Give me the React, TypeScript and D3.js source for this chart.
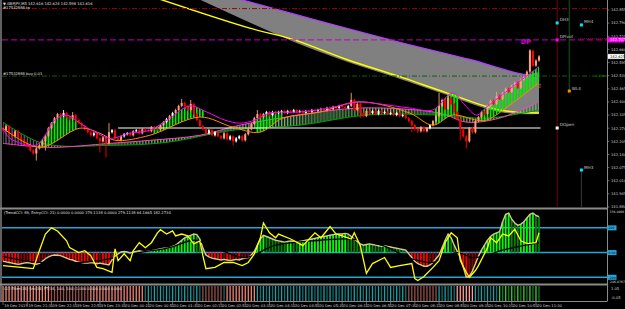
import React from "react";
import * as d3 from "d3";

type P = [number, number];

const priceTicks = [142.855, 142.79, 142.725, 142.66, 142.595, 142.53, 142.465, 142.4, 142.335, 142.27, 142.205, 142.14, 142.075, 142.01, 141.945, 141.88];
const timeLabels = ["19 Dec 2019", "19 Dec 21:30", "19 Dec 22:10", "19 Dec 22:50", "19 Dec 23:30", "20 Dec 00:10", "20 Dec 00:50", "20 Dec 01:30", "20 Dec 02:10", "20 Dec 02:50", "20 Dec 03:30", "20 Dec 04:10", "20 Dec 04:50", "20 Dec 05:30", "20 Dec 06:10", "20 Dec 06:50", "20 Dec 07:30", "20 Dec 08:10", "20 Dec 08:50", "20 Dec 09:30", "20 Dec 10:10", "20 Dec 10:50", "20 Dec 11:30"];

const firstOpen = 142.27;
const closes = [
  142.26, 142.28, 142.245, 142.23, 142.255, 142.225, 142.21, 142.195, 142.18, 142.16,
  142.145, 142.17, 142.185, 142.205, 142.23, 142.27, 142.295, 142.32, 142.34, 142.33,
  142.345, 142.325, 142.315, 142.335, 142.31, 142.295, 142.28, 142.265, 142.25, 142.235,
  142.245, 142.22, 142.205, 142.225, 142.195, 142.25, 142.26, 142.22, 142.21, 142.23,
  142.24, 142.245, 142.235, 142.255, 142.26, 142.245, 142.265, 142.26, 142.255, 142.275,
  142.27, 142.265, 142.285, 142.3, 142.315, 142.33, 142.345, 142.36, 142.38, 142.395,
  142.38, 142.36, 142.39, 142.34, 142.31, 142.28, 142.265, 142.245, 142.26, 142.235,
  142.25, 142.23, 142.22, 142.245, 142.215, 142.23, 142.205, 142.22, 142.23, 142.21,
  142.24, 142.265, 142.29, 142.32, 142.34, 142.325, 142.34, 142.35, 142.335, 142.35,
  142.345, 142.35, 142.355, 142.345, 142.355, 142.35, 142.36, 142.35, 142.355, 142.345,
  142.355, 142.35, 142.36, 142.355, 142.36, 142.365, 142.36, 142.37, 142.365, 142.375,
  142.37, 142.38, 142.375, 142.37, 142.38, 142.41, 142.36, 142.39, 142.345, 142.33,
  142.355, 142.345, 142.355, 142.34, 142.355, 142.345, 142.35, 142.34, 142.345, 142.335,
  142.345, 142.33, 142.335, 142.32, 142.305, 142.285, 142.265, 142.255, 142.275, 142.255,
  142.27, 142.285, 142.305, 142.33, 142.38, 142.41, 142.365, 142.42, 142.39, 142.35,
  142.315, 142.265, 142.23, 142.205, 142.27, 142.25, 142.305, 142.325, 142.35, 142.34,
  142.38, 142.405, 142.39, 142.43, 142.415, 142.445, 142.465, 142.45, 142.48, 142.495,
  142.47, 142.51, 142.525, 142.55, 142.655, 142.58, 142.605, 142.625,
];
const highs: P[] = [[20, 142.36], [23, 142.35], [35, 142.295], [59, 142.415], [62, 142.41], [84, 142.36], [115, 142.445], [144, 142.445], [147, 142.44], [163, 142.45], [174, 142.66], [175, 142.65]];
const lows: P[] = [[11, 142.11], [14, 142.16], [32, 142.15], [34, 142.125], [76, 142.185], [118, 142.32], [135, 142.25], [137, 142.245], [151, 142.21], [153, 142.17]];

const magentaLine: P[] = [[0, 142.27], [2.3, 142.22], [10.6, 142.185], [13.9, 142.235], [17, 142.31], [21, 142.335], [25.4, 142.295], [30.4, 142.25], [35.3, 142.22], [41.9, 142.245], [48.5, 142.26], [55.1, 142.32], [61.7, 142.38], [67.3, 142.35], [73.3, 142.31], [78.2, 142.295], [83.2, 142.31], [88.1, 142.345], [98, 142.35], [107.9, 142.37], [116.8, 142.4], [124.4, 142.39], [134.3, 142.37], [141.9, 142.36], [148.5, 142.445], [152.5, 142.385], [156.4, 142.335], [159.7, 142.375], [168.3, 142.475], [177, 142.575]];
const orangeLine: P[] = [[0, 142.27], [12.2, 142.175], [25.4, 142.27], [32, 142.245], [37, 142.21], [48.5, 142.235], [65, 142.325], [75.9, 142.275], [84.8, 142.25], [92.4, 142.32], [104.6, 142.35], [117.8, 142.4], [134.3, 142.345], [141.9, 142.285], [148.5, 142.335], [156.4, 142.31], [159.7, 142.31], [168.3, 142.395], [177, 142.495]];
const slowGreenLine: P[] = [[0, 142.3], [13.2, 142.195], [35.3, 142.185], [54.1, 142.2], [75.9, 142.26], [98, 142.285], [120.1, 142.335], [144.2, 142.335], [159.7, 142.32], [177, 142.36]];
const slowPinkLine: P[] = [[0, 142.195], [15.5, 142.175], [35.3, 142.195], [48.5, 142.21], [65, 142.235], [78.2, 142.285], [98, 142.335], [117.8, 142.37], [144.2, 142.345], [153.1, 142.3], [164, 142.32], [177, 142.4]];
const yellowMA: P[] = [[48.5, 142.925], [81.5, 142.765], [95.7, 142.71], [113.5, 142.61], [131, 142.525], [146.5, 142.445], [164, 142.36], [177, 142.345]];
const cloudUpper: P[] = [[65, 142.96], [77.6, 142.91], [104.6, 142.8], [131, 142.695], [154.1, 142.61], [173, 142.535], [177, 142.545]];
const cloudLower: P[] = [[61.7, 142.935], [95.7, 142.705], [113.5, 142.605], [131, 142.52], [146.5, 142.44], [164, 142.355], [177, 142.345]];
const bullRanges: P[] = [[13, 24], [50, 66], [84, 92], [143, 150], [158, 177]];

const cciHist = [
  -70, -75, -80, -85, -90, -95, -90, -85, -80, -85, -90, -95, -88,
  -70, -50, -35, -25, -20, -22,
  -25, -35, -45, -55, -60, -70, -75, -80, -85, -85, -80, -85, -90,
  -85, -90, -95, -100,
  -60, -30, -10, 5, 10, 5, -5, 5, 10, 15, 10, 8, 12,
  15, 20, 25, 30, 35, 35, 40, 50,
  60, 80, 100, 120, 130, 140, 150, 145,
  110, 40,
  -20, -35, -45, -50, -55, -60, -55, -60, -65, -60, -55, -60, -50, -45, -40,
  -20, 10, 60, 110, 140,
  130, 120, 110, 100, 95, 90, 85, 90, 95, 90, 85, 90, 95, 100, 105, 110, 115, 120,
  125, 130, 135, 140, 145, 150, 150, 150, 155, 150, 130, 110,
  90, 70, 60, 65, 70, 65, 60, 55, 50, 55, 50, 45, 40, 35, 30, 25, 20,
  -10, -40, -70, -90, -100, -110, -110, -100, -80, -50, -20,
  40, 100, 150, 120, 60,
  10, -40,
  -120, -200, -190, -150, -90,
  -30, 20, 60,
  100, 130, 150, 160, 170,
  250, 310, 320,
  270, 240, 220, 230, 250, 280,
  310, 320, 300, 290,
];
const entryCCI: P[] = [[0, -105], [6, -120], [10, -130], [12, 15], [14, 150], [16, 200], [18, 175], [21, 95], [22, 40], [25, 0], [27, 15], [29, -25], [31, -120], [33, -130], [36, -160], [37, 30], [38, -65], [40, -10], [42, -65], [43, 15], [45, 80], [47, 40], [49, 80], [51, 160], [52, 185], [54, 150], [56, 175], [57, 135], [59, 150], [61, 135], [63, 70], [65, 95], [66, -25], [67, -130], [70, -120], [73, -80], [76, -80], [79, -105], [81, -80], [83, -10], [85, 120], [86, 240], [88, 160], [90, 120], [91, 150], [95, 110], [98, 70], [99, 56], [103, 160], [105, 120], [108, 210], [110, 150], [112, 135], [115, 110], [116, 160], [118, 56], [120, -168], [122, -89], [126, -40], [128, -120], [131, -105], [135, -89], [136, -210], [137, -226], [139, -194], [142, -120], [144, -65], [146, 80], [148, 160], [150, 120], [151, -65], [153, -160], [154, -200], [156, -145], [157, -105], [160, 40], [161, 120], [163, 80], [165, 150], [167, 135], [169, 190], [171, 95], [173, 72], [176, 80], [177, 160]];
const cciSignal: P[] = [[0, -30], [12, -80], [30, -70], [45, 0], [55, 40], [63, 100], [70, 40], [80, -40], [90, 60], [105, 100], [115, 110], [125, 60], [135, -50], [142, -80], [150, 0], [155, -40], [160, -20], [165, 20], [177, 80]];
const cyanLevels = [200, 0, -200];

const filterSegments: [number, number, string][] = [[0, 15, "salmon"], [16, 28, "brown"], [29, 46, "salmon"], [47, 65, "teal"], [66, 72, "brown"], [73, 73, "teal"], [74, 83, "salmon"], [84, 133, "teal"], [134, 143, "brown"], [144, 149, "teal"], [150, 155, "pink"], [156, 163, "teal"], [164, 177, "green"]];

const levelTP = 142.862;
const levelPivot = 142.707;
const levelBuy = 142.528;
const levelDOpen = 142.271;
const dOpenStart = 38;

const pivots = [
  { label: "DH3", bar: 183, price: 142.791, color: "#00e5ee" },
  { label: "MH4", bar: 191, price: 142.781, color: "#00e5ee" },
  { label: "DPivot", bar: 183, price: 142.707, color: "#ff00ff" },
  { label: "WL4", bar: 187, price: 142.454, color: "#ff8c00" },
  { label: "DOpen", bar: 183, price: 142.271, color: "#ffffff" },
  { label: "MH3", bar: 191, price: 142.063, color: "#00e5ee" },
];

const FONT = "DejaVu Sans, Liberation Sans, sans-serif";

export default function App() {
  const x = d3.scaleLinear().domain([0, 177]).range([3, 539]);
  const y = d3.scaleLinear().domain([141.88, 142.855]).range([207, 10]);
  const yc = d3.scaleLinear().domain([-246.0767, 336.4966]).range([283, 211]);
  const step = x(1) - x(0);

  const line = d3.line<P>().x(d => x(d[0])).y(d => y(d[1])).curve(d3.curveCatmullRom.alpha(0.5));
  const band = (a: P[], b: P[]) => {
    const p1 = line(a) as string;
    const p2 = line([...b].reverse()) as string;
    return p1 + "L" + p2.slice(1) + "Z";
  };
  const cLine = d3.line<P>().x(d => x(d[0])).y(d => yc(d[1]));
  const cSmooth = d3.line<P>().x(d => x(d[0])).y(d => yc(d[1])).curve(d3.curveCatmullRom.alpha(0.5));

  const hiMap = new Map(highs);
  const loMap = new Map(lows);
  const candles = closes.map((c, i) => {
    const o = i === 0 ? firstOpen : closes[i - 1];
    const hi = hiMap.get(i) ?? Math.max(o, c) + 0.006;
    const lo = loMap.get(i) ?? Math.min(o, c) - 0.006;
    const up = c >= o;
    const color = up ? (c - o >= 0.015 ? "#ffa07a" : "#ffffff") : "#ff0000";
    return { i, o, c, hi, lo, color };
  });

  const histColor = (i: number) => {
    const v = cciHist[i];
    const p = i > 0 ? cciHist[i - 1] : v;
    if (v >= 0) return v >= p ? "#00ff00" : "#008800";
    return v <= p ? "#ff0000" : "#8b0000";
  };

  const filterColor = (k: string, i: number) => {
    if (k === "salmon") return "#f28474";
    if (k === "brown") return "#94504a";
    if (k === "pink") return "#ff9c9c";
    if (k === "teal") return i % 2 ? "#0f6f72" : "#17a3a6";
    return i % 2 ? "#1d7a1d" : "#33d033";
  };

  const filterBars: { i: number; color: string }[] = [];
  filterSegments.forEach(([a, b, k]) => {
    for (let i = a; i <= b; i++) filterBars.push({ i, color: filterColor(k, i) });
  });

  const axisX = 607.5;
  const txt = { fontFamily: FONT, fontSize: 3.7 } as const;
  const txtSmall = { fontFamily: FONT, fontSize: 3.1 } as const;

  return (
    <svg width={625} height={309} style={{ position: "absolute", left: 0, top: 0, background: "#000", display: "block" }}>
      <defs>
        <clipPath id="mainClip"><rect x={2} y={0} width={605} height={207} /></clipPath>
        <clipPath id="indClip"><rect x={2} y={210} width={605} height={73} /></clipPath>
        <clipPath id="bullClip">
          {bullRanges.map(([a, b], k) => (
            <rect key={k} x={x(a) - step / 2} y={0} width={x(b) - x(a) + step} height={207} />
          ))}
        </clipPath>
        <clipPath id="slowGreyClip"><rect x={0} y={0} width={x(20)} height={207} /></clipPath>
        <clipPath id="slowGreenClip"><rect x={x(20)} y={0} width={x(177) - x(20) + 2} height={207} /></clipPath>
        <pattern id="fastHatch" patternUnits="userSpaceOnUse" x={x(0) - 0.9} y={0} width={step} height={4}>
          <rect x={0} y={0} width={1.8} height={4} fill="#00ee00" />
        </pattern>
        <pattern id="greyHatch" patternUnits="userSpaceOnUse" x={x(0) - 0.5} y={0} width={step} height={4}>
          <rect x={0} y={0} width={1} height={4} fill="#8a8a8a" />
        </pattern>
        <pattern id="greenHatch" patternUnits="userSpaceOnUse" x={x(0) - 0.5} y={0} width={step} height={4}>
          <rect x={0} y={0} width={1} height={4} fill="#8aa08a" />
          <rect x={1.2} y={0} width={1} height={4} fill="#1f6f1f" />
        </pattern>
        <filter id="soft"><feGaussianBlur stdDeviation="0.6" /></filter>
      </defs>

      {/* frame */}
      <line x1={1} x2={1} y1={0} y2={301} stroke="#808080" strokeWidth={1.5} />

      {/* main panel */}
      <g clipPath="url(#mainClip)">
        <path d={band(cloudUpper, cloudLower)} fill="#808080" />
        <path d={line(cloudLower) as string} fill="none" stroke="#808080" strokeWidth={2} filter="url(#soft)" />
        <path d={line(yellowMA) as string} fill="none" stroke="#ffff00" strokeWidth={1.4} />
        <path d={line(cloudUpper) as string} fill="none" stroke="#b040ff" strokeWidth={1.4} />

        <line x1={2} x2={axisX} y1={y(levelTP)} y2={y(levelTP)} stroke="#a00000" strokeWidth={1} strokeDasharray="5,2,1,2" />
        <line x1={2} x2={axisX} y1={y(levelPivot)} y2={y(levelPivot)} stroke="#c000c0" strokeWidth={1} strokeDasharray="6,3" />
        <line x1={2} x2={axisX} y1={y(levelBuy)} y2={y(levelBuy)} stroke="#106010" strokeWidth={1} strokeDasharray="5,2,1,2" />

        <g clipPath="url(#slowGreyClip)">
          <path d={band(slowGreenLine, slowPinkLine)} fill="url(#greyHatch)" />
        </g>
        <g clipPath="url(#slowGreenClip)">
          <path d={band(slowGreenLine, slowPinkLine)} fill="url(#greenHatch)" />
        </g>
        <path d={line(slowGreenLine) as string} fill="none" stroke="#00a000" strokeWidth={1} />
        <path d={line(slowPinkLine) as string} fill="none" stroke="#ff40c8" strokeWidth={1} />

        <g clipPath="url(#bullClip)">
          <path d={band(magentaLine, orangeLine)} fill="url(#fastHatch)" />
        </g>

        <line x1={x(dOpenStart)} x2={x(177.5)} y1={y(levelDOpen)} y2={y(levelDOpen)} stroke="#ffffff" strokeWidth={1.2} />

        {candles.map(d => {
          const top = y(Math.max(d.o, d.c));
          const h = Math.max(1, y(Math.min(d.o, d.c)) - top);
          return (
            <g key={d.i}>
              <line x1={x(d.i)} x2={x(d.i)} y1={y(d.hi)} y2={y(d.lo)} stroke={d.color} strokeWidth={0.9} />
              <rect x={x(d.i) - 1} y={top} width={2} height={h} fill={d.color} />
            </g>
          );
        })}

        <path d={line(orangeLine) as string} fill="none" stroke="#ff8c00" strokeWidth={1} />
        <path d={line(magentaLine) as string} fill="none" stroke="#ff00ff" strokeWidth={1} />

        {/* pivot verticals */}
        <line x1={x(183)} x2={x(183)} y1={0} y2={207} stroke="#7a0000" strokeWidth={1} />
        <line x1={x(187)} x2={x(187)} y1={0} y2={y(142.454)} stroke="#006000" strokeWidth={1} />
        <line x1={x(191)} x2={x(191)} y1={y(142.063)} y2={207} stroke="#3a3a3a" strokeWidth={1} />
        <line x1={580} x2={axisX} y1={y(142.713)} y2={y(142.713)} stroke="#a00000" strokeWidth={1} strokeDasharray="1,1" />

        {pivots.map(p => (
          <g key={p.label}>
            <rect x={x(p.bar) - 1.5} y={y(p.price) - 1.5} width={3} height={3} fill={p.color} />
            <text x={x(p.bar) + 2.5} y={y(p.price) - 1.5} fill="#c8c8c8" style={{ ...txt, fontSize: 4.2 }}>{p.label}</text>
          </g>
        ))}

        <text x={x(171)} y={y(142.685)} fill="#e000e0" fontWeight="bold" style={{ fontFamily: FONT, fontSize: 6.5 }}>DP</text>
        <text x={x(177.2)} y={y(142.47)} fill="#d4b000" textAnchor="middle" style={{ fontFamily: FONT, fontSize: 6 }}>⇧</text>
      </g>

      {/* main titles */}
      <text x={3} y={5.2} fill="#e0e0e0" style={txt}>▼ GBPJPY,M5  142.616 142.624 142.598 142.616</text>
      <text x={3} y={8.6} fill="#e0e0e0" style={txt}>#17532888 tp</text>
      <text x={3} y={y(levelBuy) - 1.5} fill="#e0e0e0" style={txt}>#17532888 buy 0.01</text>
      <text x={596} y={y(levelBuy) + 1} fill="#00a000" style={{ ...txt, fontSize: 3 }}>1.000</text>

      {/* separators */}
      <line x1={0} x2={axisX} y1={208.5} y2={208.5} stroke="#8a8a8a" strokeWidth={2} />
      <line x1={0} x2={axisX} y1={284.5} y2={284.5} stroke="#8a8a8a" strokeWidth={2} />

      {/* indicator panel */}
      <g clipPath="url(#indClip)">
        {cyanLevels.map(v => (
          <line key={v} x1={2} x2={axisX} y1={yc(v)} y2={yc(v)} stroke="#27a4d8" strokeWidth={1.5} />
        ))}
        {cciHist.map((v, i) => (
          <line key={i} x1={x(i)} x2={x(i)} y1={yc(0)} y2={yc(v)} stroke={histColor(i)} strokeWidth={1.8} />
        ))}
        <path d={cLine(cciHist.map((v, i) => [i, v] as P)) as string} fill="none" stroke="#d8c890" strokeWidth={1.4} />
        <path d={cSmooth(cciSignal) as string} fill="none" stroke="#000000" strokeWidth={1.3} />
        <path d={cLine(entryCCI) as string} fill="none" stroke="#ffff00" strokeWidth={1.3} />
      </g>
      <text x={4} y={214} fill="#e0e0e0" style={txt}>(TrendCCI: 89, EntryCCI: 21) 0.0000 0.0000 279.1138 0.0000 279.1138 64.1665 182.2734</text>

      {/* filter panel */}
      {filterBars.map(b => (
        <line key={b.i} x1={x(b.i)} x2={x(b.i)} y1={286} y2={301} stroke={b.color} strokeWidth={1.3} />
      ))}
      <text x={4} y={290} fill="#e0e0e0" style={txt}>CCI Filter(34) Sm(34) FT(34, 100, 100) 1.000 0.000 0.000 0.000</text>

      {/* time axis */}
      <line x1={0} x2={axisX} y1={301.5} y2={301.5} stroke="#8a8a8a" strokeWidth={1} />
      {timeLabels.map((t, k) => (
        <g key={t}>
          <line x1={x(k * 8)} x2={x(k * 8)} y1={302} y2={305} stroke="#a0a0a0" strokeWidth={0.6} />
          <text x={x(k * 8) + 1.2} y={306.5} fill="#d0d0d0" style={txt}>{t}</text>
        </g>
      ))}

      {/* right axis */}
      <line x1={axisX} x2={axisX} y1={0} y2={301} stroke="#8a8a8a" strokeWidth={1} />
      {priceTicks.map(p => (
        <g key={p}>
          <line x1={axisX} x2={axisX + 2} y1={y(p)} y2={y(p)} stroke="#a0a0a0" strokeWidth={0.6} />
          <text x={611} y={y(p) + 1.3} fill="#d0d0d0" style={txt}>{p.toFixed(3)}</text>
        </g>
      ))}
      <rect x={axisX} y={y(levelPivot) - 2.6} width={17} height={5.2} fill="#ff00ff" />
      <text x={610} y={y(levelPivot) + 1.3} fill="#ffffff" style={txt}>{levelPivot.toFixed(3)}</text>
      <rect x={axisX} y={y(closes[closes.length - 1]) - 2.6} width={17} height={5.2} fill="#ffffff" stroke="#000" strokeWidth={0.4} />
      <text x={610} y={y(closes[closes.length - 1]) + 1.3} fill="#000000" style={txt}>{closes[closes.length - 1].toFixed(3)}</text>

      <text x={609.5} y={212.5} fill="#d0d0d0" style={txtSmall}>336.4966</text>
      {cyanLevels.map(v => (
        <g key={v}>
          <rect x={axisX} y={yc(v) - 2.5} width={9} height={5} fill="#27a4d8" />
          <text x={608.5} y={yc(v) + 1.3} fill="#001020" style={{ ...txt, fontSize: 3.2 }}>{v === 0 ? "0.00" : String(v)}</text>
        </g>
      ))}
      <text x={609} y={282.5} fill="#d0d0d0" style={txtSmall}>-246.0767</text>
      <text x={611} y={289.5} fill="#d0d0d0" style={txt}>1.05</text>
      <text x={611} y={299} fill="#d0d0d0" style={txt}>-0.05</text>
    </svg>
  );
}
